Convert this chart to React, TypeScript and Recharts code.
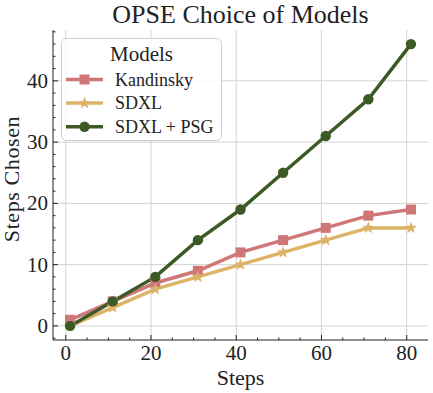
import { CartesianGrid, Label, Legend, Line, LineChart, XAxis, YAxis } from "recharts"

const steps = [1, 11, 21, 31, 41, 51, 61, 71, 81]
const kandinsky = [1, 4, 7, 9, 12, 14, 16, 18, 19]
const sdxl = [0, 3, 6, 8, 10, 12, 14, 16, 16]
const sdxlPsg = [0, 4, 8, 14, 19, 25, 31, 37, 46]

const xMajor = [0, 20, 40, 60, 80]
const yMajor = [0, 10, 20, 30, 40]
const xTicks = [0, 5, 10, 15, 20, 25, 30, 35, 40, 45, 50, 55, 60, 65, 70, 75, 80]
const yTicks = [-2, 0, 2, 4, 6, 8, 10, 12, 14, 16, 18, 20, 22, 24, 26, 28, 30, 32, 34, 36, 38, 40, 42, 44, 46, 48]

const data = steps.map((s, i) => ({
  step: s,
  kandinsky: kandinsky[i],
  sdxl: sdxl[i],
  psg: sdxlPsg[i],
}))

const FONT = "'Liberation Serif', 'DejaVu Serif', serif"
const INK = "#222"
const RED = "#cf7676"
const GOLD = "#dcb367"
const GREEN = "#3b5a26"

const series = [
  { key: "kandinsky", name: "Kandinsky", color: RED, marker: "square" },
  { key: "sdxl", name: "SDXL", color: GOLD, marker: "star" },
  { key: "psg", name: "SDXL + PSG", color: GREEN, marker: "circle" },
]

function starPath(cx: number, cy: number, ro: number, ri: number) {
  const pts: string[] = []
  for (let i = 0; i < 10; i++) {
    const r = i % 2 === 0 ? ro : ri
    const a = -Math.PI / 2 + (i * Math.PI) / 5
    pts.push(`${cx + r * Math.cos(a)},${cy + r * Math.sin(a)}`)
  }
  return `M${pts.join("L")}Z`
}

function Marker({ kind, cx, cy, color }: { kind: string; cx: number; cy: number; color: string }) {
  if (kind === "square") return <rect x={cx - 5} y={cy - 5} width={10} height={10} fill={color} />
  if (kind === "star") return <path d={starPath(cx, cy, 6.5, 2.7)} fill={color} />
  return <circle cx={cx} cy={cy} r={5.2} fill={color} />
}

function makeDot(kind: string, color: string) {
  return (p: any) => <Marker key={`${kind}-${p.index}`} kind={kind} cx={p.cx} cy={p.cy} color={color} />
}

type Side = "bottom" | "top" | "left" | "right"

function makeTick(side: Side, majors: number[], labels: boolean) {
  return (p: any) => {
    const { x, y, payload } = p
    const v = payload.value
    const major = majors.includes(v)
    const len = major ? 5 : 2.5
    let line
    if (side === "bottom") line = <line x1={x} y1={y} x2={x} y2={y - len} />
    else if (side === "top") line = <line x1={x} y1={y} x2={x} y2={y + len} />
    else if (side === "left") line = <line x1={x} y1={y} x2={x + len} y2={y} />
    else line = <line x1={x} y1={y} x2={x - len} y2={y} />
    return (
      <g stroke={INK} strokeWidth={1}>
        {line}
        {labels && major && side === "bottom" && (
          <text x={x} y={y + 20} textAnchor="middle" fontSize={21} fontFamily={FONT} fill={INK} stroke="none">
            {v}
          </text>
        )}
        {labels && major && side === "left" && (
          <text x={x - 5} y={y + 7} textAnchor="end" fontSize={21} fontFamily={FONT} fill={INK} stroke="none">
            {v}
          </text>
        )}
      </g>
    )
  }
}

function LegendBox() {
  return (
    <svg width={161} height={103} style={{ display: "block" }}>
      <rect x={0.5} y={0.5} width={160} height={102} rx={5} fill="#fff" fillOpacity={0.85} stroke="#cfcfcf" />
      <text x={80.5} y={23} textAnchor="middle" fontSize={21} fontFamily={FONT} fill={INK}>
        Models
      </text>
      {series.map((s, i) => {
        const cy = 41.5 + i * 23.6
        return (
          <g key={s.key}>
            <line x1={5} y1={cy} x2={42} y2={cy} stroke={s.color} strokeWidth={3.5} />
            <Marker kind={s.marker} cx={23.5} cy={cy} color={s.color} />
            <text x={54} y={cy + 6} fontSize={18} fontFamily={FONT} fill={INK}>
              {s.name}
            </text>
          </g>
        )
      })}
    </svg>
  )
}

export default function App() {
  return (
    <div style={{ position: "absolute", left: 0, top: 0, width: 433, height: 393, background: "#fff" }}>
      <div
        style={{
          position: "absolute",
          left: 53,
          width: 375,
          top: 0,
          textAlign: "center",
          fontFamily: FONT,
          fontSize: 26,
          lineHeight: "30px",
          color: INK,
        }}
      >
        OPSE Choice of Models
      </div>
      <LineChart width={433} height={393} data={data} margin={{ top: 30, right: 5, bottom: 0, left: 0 }}>
        <CartesianGrid
          stroke="#d2d2d2"
          strokeWidth={1}
          verticalValues={xMajor}
          horizontalValues={yMajor}
        />
        <XAxis
          xAxisId={0}
          dataKey="step"
          type="number"
          domain={[-3, 85]}
          ticks={xTicks}
          interval={0}
          height={53}
          tickSize={0}
          tickMargin={0}
          tickLine={false}
          axisLine={{ stroke: INK, strokeWidth: 1 }}
          tick={makeTick("bottom", xMajor, true)}
          allowDataOverflow
        >
          <Label
            content={({ viewBox }: any) => (
              <text
                x={viewBox.x + viewBox.width / 2}
                y={385}
                textAnchor="middle"
                fontSize={22}
                fontFamily={FONT}
                fill={INK}
              >
                Steps
              </text>
            )}
          />
        </XAxis>
        <XAxis
          xAxisId="top"
          orientation="top"
          dataKey="step"
          type="number"
          domain={[-3, 85]}
          ticks={xTicks}
          interval={0}
          height={0}
          tickSize={0}
          tickMargin={0}
          tickLine={false}
          axisLine={{ stroke: INK, strokeWidth: 1 }}
          tick={makeTick("top", xMajor, false)}
          allowDataOverflow
        />
        <YAxis
          yAxisId={0}
          type="number"
          domain={[-2.3, 48.3]}
          ticks={yTicks}
          interval={0}
          width={53}
          tickSize={0}
          tickMargin={0}
          tickLine={false}
          axisLine={{ stroke: INK, strokeWidth: 1 }}
          tick={makeTick("left", yMajor, true)}
          allowDataOverflow
        >
          <Label
            content={({ viewBox }: any) => {
              const cy = viewBox.y + viewBox.height / 2 - 6
              return (
                <text
                  x={19}
                  y={cy}
                  transform={`rotate(-90 19 ${cy})`}
                  textAnchor="middle"
                  fontSize={22}
                  fontFamily={FONT}
                  letterSpacing={0.6}
                  fill={INK}
                >
                  Steps Chosen
                </text>
              )
            }}
          />
        </YAxis>
        <YAxis
          yAxisId="right"
          orientation="right"
          type="number"
          domain={[-2.3, 48.3]}
          ticks={yTicks}
          interval={0}
          width={0}
          tickSize={0}
          tickMargin={0}
          tickLine={false}
          axisLine={{ stroke: INK, strokeWidth: 1 }}
          tick={makeTick("right", yMajor, false)}
          allowDataOverflow
        />
        {series.map((s) => (
          <Line
            key={s.key}
            dataKey={s.key}
            name={s.name}
            xAxisId={0}
            yAxisId={0}
            stroke={s.color}
            strokeWidth={3.5}
            dot={makeDot(s.marker, s.color)}
            activeDot={false}
            isAnimationActive={false}
          />
        ))}
        <Legend
          layout="vertical"
          align="center"
          verticalAlign="middle"
          wrapperStyle={{ left: 61, top: 38, width: 161, height: 103 }}
          content={() => <LegendBox />}
        />
      </LineChart>
    </div>
  )
}
